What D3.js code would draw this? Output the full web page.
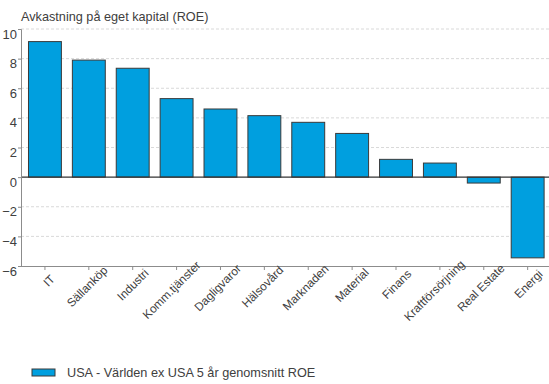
<!DOCTYPE html>
<html><head><meta charset="utf-8">
<script src="https://cdn.jsdelivr.net/npm/d3@7"></script>
<style>
body{margin:0;background:#fff;}
svg text{font-family:"Liberation Sans",Arial,sans-serif;fill:#404040;}
</style></head>
<body><svg id="c" width="549" height="384"></svg>
<script>
const categories = ["IT","Sällanköp","Industri","Komm.tjänster","Dagligvaror","Hälsovård","Marknaden","Material","Finans","Kraftförsörjning","Real Estate","Energi"];
const roeValues = [9.15, 7.9, 7.35, 5.3, 4.6, 4.15, 3.7, 2.95, 1.2, 0.95, -0.4, -5.45];
const yTicks = [-6,-4,-2,0,2,4,6,8,10];
const titleText = "Avkastning på eget kapital (ROE)";
const legendText = "USA - Världen ex USA 5 år genomsnitt ROE";

const svg = d3.select("#c");
const y = d3.scaleLinear().domain([-6,10]).range([266,29]);
const x = d3.scaleBand().domain(categories).range([23,549.6]).paddingInner(0.25).paddingOuter(0.125);
const axisX = 21;

svg.append("text").attr("x",21).attr("y",21).attr("font-size","12.7px").text(titleText);

// gridlines
svg.append("g").selectAll("line").data(yTicks.filter(d=>d!==0 && d!==-6)).join("line")
  .attr("x1",axisX).attr("x2",549).attr("y1",d=>y(d)).attr("y2",d=>y(d))
  .attr("stroke","#d9d9d9").attr("stroke-width",1).attr("stroke-dasharray","3,2");

// bars
svg.append("g").selectAll("rect").data(categories).join("rect")
  .attr("x",d=>x(d)).attr("width",x.bandwidth())
  .attr("y",(d,i)=>y(Math.max(0,roeValues[i])))
  .attr("height",(d,i)=>Math.abs(y(roeValues[i])-y(0)))
  .attr("fill","#009FDF").attr("stroke","#3a3a3a").attr("stroke-width",1);

// zero line
svg.append("line").attr("x1",axisX).attr("x2",549).attr("y1",y(0)).attr("y2",y(0))
  .attr("stroke","#333").attr("stroke-width",1.2);

// y axis
const ya = svg.append("g").attr("transform",`translate(${axisX},0)`)
  .call(d3.axisLeft(y).tickValues(yTicks).tickSize(3).tickPadding(1).tickFormat(d3.format("d")));
ya.select(".domain").attr("stroke","#8c8c8c");
ya.selectAll(".tick line").attr("stroke","#8c8c8c");
ya.selectAll(".tick text").attr("font-size","13px").attr("fill","#404040").attr("font-family","Liberation Sans, Arial, sans-serif").attr("dy","0.7em");

// x axis at bottom
const xa = svg.append("g").attr("transform",`translate(0,266)`)
  .call(d3.axisBottom(x).tickSize(4).tickSizeOuter(0));
xa.select(".domain").attr("stroke","#8c8c8c").attr("d","M21,0.5H549");
xa.selectAll(".tick line").attr("stroke","#8c8c8c");
xa.selectAll(".tick text").remove();
const labels = svg.append("g").selectAll("text").data(categories).join("text")
  .attr("text-anchor","middle").attr("dominant-baseline","central")
  .attr("font-size","11.8px").text(d=>d);
labels.each(function(d){
  const L = this.getComputedTextLength();
  const s = 0.14*(L-12);
  const cx = x(d)+x.bandwidth()/2 + 4 - s;
  const cy = 281 + s;
  d3.select(this).attr("transform",`translate(${cx},${cy}) rotate(-45)`);
});

// legend
svg.append("rect").attr("x",32).attr("y",369).attr("width",23).attr("height",7)
  .attr("fill","#009FDF").attr("stroke","#3a3a3a").attr("stroke-width",1);
svg.append("text").attr("x",67).attr("y",377).attr("font-size","12.7px").text(legendText);
</script></body></html>
